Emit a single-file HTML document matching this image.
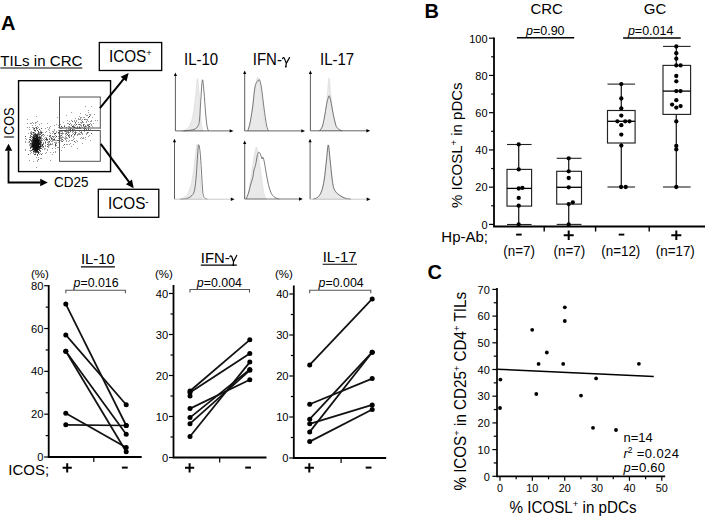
<!DOCTYPE html>
<html><head><meta charset="utf-8"><style>
html,body{margin:0;padding:0;background:#fff;width:709px;height:518px;overflow:hidden}
svg{display:block;font-family:"Liberation Sans", sans-serif;}
</style></head><body>
<svg width="709" height="518" viewBox="0 0 709 518" font-family='"Liberation Sans", sans-serif' fill="#000">
<defs><filter id="bl" x="-5%" y="-5%" width="110%" height="110%"><feGaussianBlur stdDeviation="0.4"/></filter></defs>
<text x="1.0" y="30.2" font-size="20" text-anchor="start" font-weight="bold" >A</text>
<text transform="translate(0.3,66.2) scale(1,1.03)" x="0" y="0" font-size="15.1" text-anchor="start" font-weight="normal" >TILs in CRC</text>
<line x1="0.30" y1="68.00" x2="82.40" y2="68.00" stroke="#000" stroke-width="1.0" />
<path d="M33 134h1v1h-1zM35 153h1v1h-1zM33 133h1v1h-1zM42 140h1v1h-1zM33 153h1v1h-1zM41 144h1v1h-1zM41 143h1v1h-1zM30 146h1v1h-1zM30 145h1v1h-1zM34 152h1v1h-1zM32 138h1v1h-1zM37 133h1v1h-1zM39 145h1v1h-1zM33 150h1v1h-1zM40 150h1v1h-1zM40 139h1v1h-1zM33 152h1v1h-1zM30 144h1v1h-1zM32 150h1v1h-1zM32 148h1v1h-1zM29 127h1v1h-1zM33 128h1v1h-1zM25 150h1v1h-1zM45 128h1v1h-1zM37 128h1v1h-1zM34 133h1v1h-1zM42 132h1v1h-1zM35 123h1v1h-1zM28 133h1v1h-1zM41 136h1v1h-1zM30 132h1v1h-1zM31 142h1v1h-1zM40 130h1v1h-1zM39 135h1v1h-1zM40 158h1v1h-1zM29 129h1v1h-1zM36 122h1v1h-1zM44 140h1v1h-1zM29 145h1v1h-1zM39 132h1v1h-1zM40 131h1v1h-1zM40 136h1v1h-1zM35 122h1v1h-1zM29 137h1v1h-1zM30 153h1v1h-1zM28 142h1v1h-1zM30 123h1v1h-1zM27 127h1v1h-1zM34 129h1v1h-1zM38 136h1v1h-1zM44 148h1v1h-1zM32 127h1v1h-1zM41 145h1v1h-1zM34 132h1v1h-1zM47 127h1v1h-1zM35 125h1v1h-1zM37 126h1v1h-1zM29 142h1v1h-1zM44 138h1v1h-1zM30 150h1v1h-1zM25 142h1v1h-1zM40 133h1v1h-1zM31 152h1v1h-1zM32 136h1v1h-1zM30 151h1v1h-1zM41 138h1v1h-1zM38 157h1v1h-1zM33 123h1v1h-1zM36 157h1v1h-1zM25 138h1v1h-1zM32 122h1v1h-1zM41 137h1v1h-1zM29 160h1v1h-1zM32 125h1v1h-1zM47 140h1v1h-1zM30 133h1v1h-1zM32 134h1v1h-1zM32 132h1v1h-1zM43 142h1v1h-1zM30 136h1v1h-1zM41 123h1v1h-1zM42 134h1v1h-1zM40 153h1v1h-1zM43 139h1v1h-1zM39 154h1v1h-1zM41 158h1v1h-1zM42 138h1v1h-1zM37 121h1v1h-1zM35 131h1v1h-1zM39 124h1v1h-1zM36 116h1v1h-1zM27 119h1v1h-1zM41 141h1v1h-1zM45 153h1v1h-1zM37 161h1v1h-1zM42 135h1v1h-1zM29 150h1v1h-1zM43 147h1v1h-1zM39 133h1v1h-1zM36 167h1v1h-1zM42 147h1v1h-1zM25 141h1v1h-1zM33 127h1v1h-1zM31 138h1v1h-1zM26 139h1v1h-1zM29 144h1v1h-1zM39 152h1v1h-1zM42 149h1v1h-1zM25 149h1v1h-1zM33 129h1v1h-1zM48 147h1v1h-1zM37 160h1v1h-1zM45 141h1v1h-1zM38 127h1v1h-1zM31 131h1v1h-1zM36 129h1v1h-1zM41 139h1v1h-1zM38 135h1v1h-1zM27 123h1v1h-1zM31 123h1v1h-1zM35 127h1v1h-1zM31 132h1v1h-1zM45 132h1v1h-1zM45 137h1v1h-1zM41 131h1v1h-1zM33 161h1v1h-1zM91 121h1v1h-1zM71 112h1v1h-1zM78 122h1v1h-1zM58 127h1v1h-1zM60 135h1v1h-1zM77 126h1v1h-1zM68 129h1v1h-1zM73 125h1v1h-1zM67 131h1v1h-1zM65 138h1v1h-1zM69 121h1v1h-1zM79 126h1v1h-1zM69 134h1v1h-1zM52 133h1v1h-1zM68 126h1v1h-1zM89 135h1v1h-1zM83 137h1v1h-1zM69 136h1v1h-1zM61 138h1v1h-1zM62 131h1v1h-1zM55 148h1v1h-1zM56 143h1v1h-1zM75 125h1v1h-1zM91 124h1v1h-1zM52 148h1v1h-1zM51 139h1v1h-1zM72 140h1v1h-1zM55 142h1v1h-1zM64 147h1v1h-1zM80 124h1v1h-1zM63 145h1v1h-1zM83 122h1v1h-1zM78 134h1v1h-1zM71 128h1v1h-1zM87 115h1v1h-1zM77 130h1v1h-1zM69 132h1v1h-1zM51 144h1v1h-1zM90 130h1v1h-1zM93 123h1v1h-1zM82 127h1v1h-1zM69 127h1v1h-1zM63 137h1v1h-1zM78 133h1v1h-1zM50 152h1v1h-1zM56 131h1v1h-1zM73 133h1v1h-1zM74 130h1v1h-1zM42 153h1v1h-1zM54 125h1v1h-1zM68 130h1v1h-1zM64 131h1v1h-1zM83 128h1v1h-1zM81 125h1v1h-1zM94 114h1v1h-1zM88 112h1v1h-1zM62 134h1v1h-1zM68 141h1v1h-1zM71 140h1v1h-1zM69 129h1v1h-1zM48 145h1v1h-1zM47 135h1v1h-1zM80 117h1v1h-1zM88 136h1v1h-1zM61 140h1v1h-1zM53 136h1v1h-1zM80 132h1v1h-1zM48 144h1v1h-1zM54 140h1v1h-1zM61 137h1v1h-1zM54 134h1v1h-1zM77 134h1v1h-1zM64 125h1v1h-1zM77 141h1v1h-1zM82 134h1v1h-1zM78 128h1v1h-1zM86 115h1v1h-1zM47 142h1v1h-1zM88 127h1v1h-1zM53 140h1v1h-1zM81 120h1v1h-1zM49 138h1v1h-1zM70 123h1v1h-1zM44 135h1v1h-1zM56 142h1v1h-1zM55 135h1v1h-1zM67 144h1v1h-1zM84 117h1v1h-1zM49 145h1v1h-1zM46 131h1v1h-1zM54 130h1v1h-1zM66 127h1v1h-1zM74 129h1v1h-1zM55 140h1v1h-1zM54 136h1v1h-1zM87 119h1v1h-1zM53 137h1v1h-1zM65 139h1v1h-1zM67 138h1v1h-1zM79 116h1v1h-1zM43 144h1v1h-1zM60 128h1v1h-1zM97 120h1v1h-1zM46 152h1v1h-1zM62 132h1v1h-1zM60 138h1v1h-1zM48 142h1v1h-1zM88 126h1v1h-1zM54 138h1v1h-1zM51 141h1v1h-1zM70 130h1v1h-1zM76 132h1v1h-1zM86 119h1v1h-1zM58 142h1v1h-1zM88 121h1v1h-1zM75 127h1v1h-1zM49 144h1v1h-1zM91 120h1v1h-1zM59 143h1v1h-1zM47 123h1v1h-1zM82 138h1v1h-1zM92 117h1v1h-1zM73 137h1v1h-1zM84 127h1v1h-1zM72 132h1v1h-1zM80 113h1v1h-1zM67 132h1v1h-1zM91 106h1v1h-1zM74 124h1v1h-1zM80 127h1v1h-1zM83 138h1v1h-1zM58 130h1v1h-1zM75 142h1v1h-1zM68 131h1v1h-1zM87 120h1v1h-1zM60 124h1v1h-1zM89 114h1v1h-1zM73 136h1v1h-1zM86 121h1v1h-1zM68 136h1v1h-1zM83 126h1v1h-1zM73 127h1v1h-1zM64 138h1v1h-1zM85 119h1v1h-1zM75 131h1v1h-1zM49 130h1v1h-1zM49 128h1v1h-1zM47 149h1v1h-1zM84 131h1v1h-1zM52 138h1v1h-1zM56 145h1v1h-1zM72 131h1v1h-1zM50 133h1v1h-1zM49 127h1v1h-1zM90 114h1v1h-1zM69 144h1v1h-1zM67 123h1v1h-1zM74 135h1v1h-1zM73 129h1v1h-1zM70 127h1v1h-1zM66 144h1v1h-1zM79 119h1v1h-1zM58 147h1v1h-1zM77 135h1v1h-1zM71 125h1v1h-1zM55 151h1v1h-1zM86 134h1v1h-1zM76 140h1v1h-1zM80 119h1v1h-1zM82 122h1v1h-1zM74 120h1v1h-1zM45 148h1v1h-1zM92 126h1v1h-1zM58 136h1v1h-1zM56 132h1v1h-1zM79 133h1v1h-1zM49 142h1v1h-1zM84 126h1v1h-1zM74 121h1v1h-1zM62 133h1v1h-1zM75 123h1v1h-1zM52 139h1v1h-1zM55 137h1v1h-1zM52 144h1v1h-1zM55 152h1v1h-1zM88 124h1v1h-1zM62 137h1v1h-1zM50 160h1v1h-1zM81 122h1v1h-1zM70 128h1v1h-1zM55 143h1v1h-1zM61 141h1v1h-1zM51 137h1v1h-1zM59 134h1v1h-1zM50 136h1v1h-1zM58 133h1v1h-1zM42 146h1v1h-1zM66 137h1v1h-1zM61 150h1v1h-1zM76 121h1v1h-1zM56 140h1v1h-1zM87 133h1v1h-1zM50 143h1v1h-1zM80 138h1v1h-1zM63 133h1v1h-1zM87 124h1v1h-1zM86 133h1v1h-1zM65 136h1v1h-1zM54 142h1v1h-1zM77 148h1v1h-1zM62 147h1v1h-1zM86 126h1v1h-1zM79 131h1v1h-1zM85 114h1v1h-1zM73 139h1v1h-1zM90 129h1v1h-1zM69 140h1v1h-1zM73 131h1v1h-1zM75 128h1v1h-1zM86 130h1v1h-1zM57 117h1v1h-1zM90 140h1v1h-1zM43 136h1v1h-1zM46 137h1v1h-1zM71 120h1v1h-1zM53 152h1v1h-1zM66 132h1v1h-1zM48 146h1v1h-1zM58 125h1v1h-1zM66 131h1v1h-1zM88 128h1v1h-1zM65 133h1v1h-1zM49 135h1v1h-1zM90 123h1v1h-1zM44 149h1v1h-1zM69 126h1v1h-1zM56 124h1v1h-1zM68 133h1v1h-1zM62 136h1v1h-1zM82 133h1v1h-1zM78 124h1v1h-1zM52 154h1v1h-1zM63 122h1v1h-1zM48 143h1v1h-1zM48 141h1v1h-1zM48 129h1v1h-1zM84 124h1v1h-1zM85 125h1v1h-1zM81 126h1v1h-1zM63 140h1v1h-1zM47 150h1v1h-1zM80 134h1v1h-1zM57 147h1v1h-1zM73 144h1v1h-1zM65 137h1v1h-1zM59 139h1v1h-1zM52 131h1v1h-1zM88 110h1v1h-1zM74 138h1v1h-1zM83 117h1v1h-1zM75 118h1v1h-1zM60 136h1v1h-1zM69 135h1v1h-1zM90 121h1v1h-1zM68 123h1v1h-1zM81 133h1v1h-1zM60 137h1v1h-1zM61 139h1v1h-1zM70 143h1v1h-1zM87 130h1v1h-1zM45 145h1v1h-1zM60 133h1v1h-1zM81 137h1v1h-1zM88 132h1v1h-1zM85 139h1v1h-1zM67 120h1v1h-1zM81 123h1v1h-1zM55 146h1v1h-1zM45 146h1v1h-1zM61 128h1v1h-1zM74 132h1v1h-1zM52 143h1v1h-1zM60 140h1v1h-1zM91 125h1v1h-1zM100 128h1v1h-1zM72 134h1v1h-1zM66 129h1v1h-1zM90 115h1v1h-1zM66 141h1v1h-1zM46 140h1v1h-1zM59 136h1v1h-1zM59 144h1v1h-1zM74 126h1v1h-1zM54 129h1v1h-1zM49 132h1v1h-1zM66 135h1v1h-1zM50 137h1v1h-1zM80 118h1v1h-1zM95 120h1v1h-1zM76 128h1v1h-1zM81 131h1v1h-1zM86 122h1v1h-1zM71 124h1v1h-1zM53 131h1v1h-1zM58 138h1v1h-1zM60 131h1v1h-1zM83 130h1v1h-1zM85 106h1v1h-1zM52 140h1v1h-1zM82 119h1v1h-1zM50 126h1v1h-1zM78 119h1v1h-1zM53 132h1v1h-1zM66 115h1v1h-1zM66 138h1v1h-1zM84 128h1v1h-1zM71 136h1v1h-1zM66 140h1v1h-1zM80 125h1v1h-1zM85 137h1v1h-1zM79 128h1v1h-1zM82 143h1v1h-1zM61 131h1v1h-1zM50 140h1v1h-1zM76 120h1v1h-1zM52 141h1v1h-1zM78 118h1v1h-1zM75 134h1v1h-1zM45 143h1v1h-1zM71 146h1v1h-1zM79 134h1v1h-1zM80 122h1v1h-1zM81 117h1v1h-1zM68 128h1v1h-1zM65 134h1v1h-1z" fill="rgb(156,156,156)" filter="url(#bl)"/>
<path d="M35 152h1v1h-1zM35 137h1v1h-1zM38 134h1v1h-1zM31 140h1v1h-1zM37 155h1v1h-1zM39 149h1v1h-1zM36 152h1v1h-1zM31 145h1v1h-1zM31 144h1v1h-1zM38 133h1v1h-1zM37 152h1v1h-1zM31 150h1v1h-1zM32 137h1v1h-1zM30 140h1v1h-1zM35 154h1v1h-1zM31 143h1v1h-1zM34 151h1v1h-1zM40 151h1v1h-1zM34 154h1v1h-1zM32 147h1v1h-1zM38 138h1v1h-1zM40 147h1v1h-1zM31 136h1v1h-1zM41 148h1v1h-1zM40 132h1v1h-1zM39 134h1v1h-1zM35 133h1v1h-1zM28 154h1v1h-1zM30 135h1v1h-1zM41 154h1v1h-1zM31 134h1v1h-1zM46 139h1v1h-1zM41 128h1v1h-1zM41 133h1v1h-1zM31 147h1v1h-1zM41 146h1v1h-1zM33 136h1v1h-1zM36 128h1v1h-1zM25 136h1v1h-1zM31 141h1v1h-1zM40 134h1v1h-1zM41 135h1v1h-1zM30 139h1v1h-1zM38 132h1v1h-1zM43 134h1v1h-1zM38 159h1v1h-1zM39 136h1v1h-1zM35 130h1v1h-1zM40 140h1v1h-1zM43 146h1v1h-1zM41 140h1v1h-1zM34 135h1v1h-1zM43 143h1v1h-1zM36 127h1v1h-1zM41 142h1v1h-1zM30 148h1v1h-1zM30 147h1v1h-1zM30 137h1v1h-1zM38 151h1v1h-1zM29 139h1v1h-1zM45 142h1v1h-1zM29 141h1v1h-1zM37 154h1v1h-1zM49 136h1v1h-1zM31 133h1v1h-1zM45 139h1v1h-1zM73 130h1v1h-1zM58 132h1v1h-1zM58 140h1v1h-1zM91 133h1v1h-1zM91 130h1v1h-1zM88 129h1v1h-1zM72 121h1v1h-1zM77 127h1v1h-1zM64 144h1v1h-1zM80 128h1v1h-1zM60 130h1v1h-1zM47 144h1v1h-1zM84 130h1v1h-1zM50 144h1v1h-1zM83 124h1v1h-1zM49 141h1v1h-1zM72 129h1v1h-1zM65 131h1v1h-1zM71 135h1v1h-1zM75 133h1v1h-1zM70 129h1v1h-1zM87 125h1v1h-1zM83 125h1v1h-1zM62 141h1v1h-1zM70 131h1v1h-1zM88 125h1v1h-1zM76 130h1v1h-1zM75 122h1v1h-1zM84 129h1v1h-1zM79 124h1v1h-1zM88 117h1v1h-1zM86 129h1v1h-1zM49 139h1v1h-1zM55 145h1v1h-1zM66 130h1v1h-1zM66 133h1v1h-1zM81 132h1v1h-1zM85 128h1v1h-1zM75 132h1v1h-1zM57 140h1v1h-1zM62 127h1v1h-1zM54 133h1v1h-1zM61 135h1v1h-1zM89 124h1v1h-1zM73 126h1v1h-1zM74 141h1v1h-1zM82 121h1v1h-1zM47 146h1v1h-1zM64 126h1v1h-1zM61 133h1v1h-1zM68 132h1v1h-1zM74 134h1v1h-1zM67 134h1v1h-1zM78 130h1v1h-1zM53 139h1v1h-1zM85 126h1v1h-1zM69 137h1v1h-1zM84 119h1v1h-1zM69 124h1v1h-1zM77 128h1v1h-1zM87 132h1v1h-1zM76 124h1v1h-1zM50 135h1v1h-1zM52 136h1v1h-1zM75 130h1v1h-1zM62 139h1v1h-1z" fill="rgb(90,90,90)" filter="url(#bl)"/>
<path d="M34 136h1v1h-1zM32 139h1v1h-1zM39 139h1v1h-1zM39 142h1v1h-1zM39 141h1v1h-1zM33 132h1v1h-1zM38 152h1v1h-1zM40 143h1v1h-1zM40 145h1v1h-1zM34 134h1v1h-1zM32 140h1v1h-1zM33 135h1v1h-1zM31 146h1v1h-1zM38 148h1v1h-1zM39 138h1v1h-1zM40 148h1v1h-1zM39 150h1v1h-1zM39 148h1v1h-1zM32 141h1v1h-1zM33 139h1v1h-1zM34 130h1v1h-1zM30 143h1v1h-1zM37 130h1v1h-1zM37 134h1v1h-1zM41 132h1v1h-1zM42 144h1v1h-1zM36 134h1v1h-1zM40 137h1v1h-1zM38 131h1v1h-1zM39 129h1v1h-1zM35 134h1v1h-1zM34 128h1v1h-1zM74 127h1v1h-1zM59 131h1v1h-1zM68 135h1v1h-1zM89 116h1v1h-1zM47 139h1v1h-1zM54 139h1v1h-1zM79 127h1v1h-1zM46 138h1v1h-1zM55 133h1v1h-1zM61 126h1v1h-1zM72 126h1v1h-1zM89 126h1v1h-1zM56 136h1v1h-1zM51 138h1v1h-1zM55 144h1v1h-1z" fill="rgb(57,57,57)" filter="url(#bl)"/>
<path d="M38 153h1v1h-1zM34 137h1v1h-1zM32 149h1v1h-1zM38 137h1v1h-1zM40 144h1v1h-1zM34 150h1v1h-1zM37 151h1v1h-1zM33 151h1v1h-1zM39 140h1v1h-1zM37 137h1v1h-1zM36 151h1v1h-1zM38 139h1v1h-1zM35 151h1v1h-1zM35 136h1v1h-1zM36 135h1v1h-1zM32 142h1v1h-1zM40 138h1v1h-1zM40 141h1v1h-1zM36 136h1v1h-1zM39 137h1v1h-1zM35 135h1v1h-1zM37 135h1v1h-1zM40 142h1v1h-1zM42 145h1v1h-1z" fill="rgb(40,40,40)" filter="url(#bl)"/>
<path d="M32 145h1v1h-1zM33 143h1v1h-1zM33 142h1v1h-1zM33 148h1v1h-1zM32 143h1v1h-1zM36 137h1v1h-1zM34 139h1v1h-1zM32 146h1v1h-1zM33 149h1v1h-1zM37 150h1v1h-1zM37 136h1v1h-1zM39 147h1v1h-1zM39 144h1v1h-1zM36 150h1v1h-1zM34 148h1v1h-1zM33 138h1v1h-1zM32 144h1v1h-1zM40 146h1v1h-1zM34 149h1v1h-1zM35 150h1v1h-1zM34 138h1v1h-1zM39 146h1v1h-1z" fill="rgb(24,24,24)" filter="url(#bl)"/>
<path d="M36 147h1v1h-1zM38 145h1v1h-1zM35 144h1v1h-1zM35 142h1v1h-1zM34 145h1v1h-1zM37 139h1v1h-1zM35 146h1v1h-1zM37 144h1v1h-1zM35 140h1v1h-1zM37 149h1v1h-1zM35 147h1v1h-1zM36 138h1v1h-1zM37 145h1v1h-1zM35 141h1v1h-1zM37 142h1v1h-1zM33 140h1v1h-1zM36 144h1v1h-1zM34 146h1v1h-1zM36 141h1v1h-1zM37 147h1v1h-1zM35 148h1v1h-1zM34 147h1v1h-1zM35 143h1v1h-1zM34 142h1v1h-1zM36 149h1v1h-1zM38 147h1v1h-1zM34 140h1v1h-1zM36 148h1v1h-1zM37 141h1v1h-1zM34 144h1v1h-1zM38 146h1v1h-1zM37 143h1v1h-1zM33 147h1v1h-1zM37 146h1v1h-1zM36 146h1v1h-1zM36 139h1v1h-1zM38 144h1v1h-1zM33 145h1v1h-1zM35 145h1v1h-1zM36 142h1v1h-1zM38 143h1v1h-1zM37 140h1v1h-1zM36 145h1v1h-1zM36 143h1v1h-1zM33 144h1v1h-1zM38 140h1v1h-1zM34 143h1v1h-1zM37 138h1v1h-1zM35 149h1v1h-1zM37 148h1v1h-1zM36 140h1v1h-1zM35 139h1v1h-1zM33 146h1v1h-1zM39 143h1v1h-1zM33 141h1v1h-1zM33 137h1v1h-1zM34 141h1v1h-1zM38 149h1v1h-1zM38 142h1v1h-1zM35 138h1v1h-1zM38 141h1v1h-1z" fill="rgb(7,7,7)" filter="url(#bl)"/>
<rect x="18.55" y="80.7" width="92" height="90.9" fill="none" stroke="#000" stroke-width="1.4"/>
<rect x="59.5" y="97" width="40.8" height="31" fill="none" stroke="#505050" stroke-width="1"/>
<rect x="59.5" y="130.5" width="40.8" height="30.8" fill="none" stroke="#505050" stroke-width="1"/>
<text x="0" y="0" font-size="14" text-anchor="middle" font-weight="normal" transform="translate(13.9,123) rotate(-90) scale(1,1.03)" textLength="31.3" lengthAdjust="spacingAndGlyphs">ICOS</text>
<path d="M8.5 150.6 V182.5 H40.4" fill="none" stroke="#000" stroke-width="1.8"/>
<path d="M4.8 150.8 L12.2 150.8 L8.5 143.7 Z" fill="#000"/>
<path d="M40.2 178.8 L40.2 186.2 L47.8 182.5 Z" fill="#000"/>
<text transform="translate(54,187) scale(1,1.03)" x="0" y="0" font-size="13.5" text-anchor="start" font-weight="normal" >CD25</text>
<rect x="99.3" y="42.5" width="62.4" height="28" fill="none" stroke="#000" stroke-width="1.3"/>
<text transform="translate(108.9,61.6) scale(1,1.03)" x="0" y="0" font-size="15.3">ICOS<tspan font-size="9.5" dy="-5">+</tspan></text>
<rect x="98.3" y="189.3" width="60.5" height="28" fill="none" stroke="#000" stroke-width="1.3"/>
<text transform="translate(108.0,208.9) scale(1,1.03)" x="0" y="0" font-size="15.3">ICOS<tspan font-size="10" dy="-4.2">-</tspan></text>
<line x1="99.9" y1="108.2" x2="124.18" y2="78.33" stroke="#000" stroke-width="2.0"/>
<path d="M128.60 72.90 L126.50 81.50 L120.60 76.71 Z" fill="#000"/>
<line x1="100.7" y1="143.9" x2="129.52" y2="182.68" stroke="#000" stroke-width="2.0"/>
<path d="M133.70 188.30 L125.88 184.15 L131.98 179.61 Z" fill="#000"/>
<text transform="translate(184.0,65.1) scale(1,1.07)" x="0" y="0" font-size="15" text-anchor="start" font-weight="normal">IL-10</text>
<text transform="translate(252.8,64.6) scale(1,1.07)" x="0" y="0" font-size="15" text-anchor="start" font-weight="normal">IFN-</text>
<path d="M282.6 58.6 Q283.2 56.9 284.3 58.1 L286.3 63.4 L289.5 57.6 M286.3 63.4 L285.8 66.8" fill="none" stroke="#000" stroke-width="1.2" stroke-linecap="round" stroke-linejoin="round"/>
<circle cx="285.85" cy="66.60" r="0.8" fill="#000"/>
<text transform="translate(320.0,65.1) scale(1,1.07)" x="0" y="0" font-size="15" text-anchor="start" font-weight="normal">IL-17</text>
<path d="M181.50 130.90 C182.25 130.67 184.58 130.48 186.00 129.50 C187.42 128.52 188.83 127.42 190.00 125.00 C191.17 122.58 192.08 119.67 193.00 115.00 C193.92 110.33 194.77 103.08 195.50 97.00 C196.23 90.92 196.82 79.33 197.40 78.50 C197.98 77.67 198.48 85.92 199.00 92.00 C199.52 98.08 200.00 109.00 200.50 115.00 C201.00 121.00 201.50 125.35 202.00 128.00 C202.50 130.65 203.25 130.42 203.50 130.90 Z" fill="#e9e9e9" stroke="#d6d6d6" stroke-width="0.6"/>
<path d="M183.50 130.90 C184.58 130.80 188.08 130.62 190.00 130.30 C191.92 129.98 193.67 129.72 195.00 129.00 C196.33 128.28 197.25 127.50 198.00 126.00 C198.75 124.50 199.03 124.33 199.50 120.00 C199.97 115.67 200.32 106.68 200.80 100.00 C201.28 93.32 201.87 81.23 202.40 79.90 C202.93 78.57 203.48 86.65 204.00 92.00 C204.52 97.35 205.00 106.33 205.50 112.00 C206.00 117.67 206.50 122.85 207.00 126.00 C207.50 129.15 208.25 130.08 208.50 130.90" fill="none" stroke="#505050" stroke-width="0.75"/>
<path d="M247.80 130.90 C248.17 129.58 249.22 126.82 250.00 123.00 C250.78 119.18 251.67 113.83 252.50 108.00 C253.33 102.17 254.20 93.03 255.00 88.00 C255.80 82.97 256.63 79.13 257.30 77.80 C257.97 76.47 258.38 77.63 259.00 80.00 C259.62 82.37 260.25 86.67 261.00 92.00 C261.75 97.33 262.75 106.17 263.50 112.00 C264.25 117.83 264.95 123.85 265.50 127.00 C266.05 130.15 266.58 130.25 266.80 130.90 Z" fill="#e9e9e9" stroke="#d6d6d6" stroke-width="0.6"/>
<path d="M247.80 130.90 C248.17 129.58 249.22 126.82 250.00 123.00 C250.78 119.18 251.70 113.83 252.50 108.00 C253.30 102.17 254.07 92.35 254.80 88.00 C255.53 83.65 256.33 83.08 256.90 81.90 C257.47 80.72 257.75 81.23 258.20 80.90 C258.65 80.57 259.05 78.72 259.60 79.90 C260.15 81.08 260.77 83.32 261.50 88.00 C262.23 92.68 263.17 101.83 264.00 108.00 C264.83 114.17 265.77 121.18 266.50 125.00 C267.23 128.82 268.08 129.92 268.40 130.90" fill="none" stroke="#505050" stroke-width="0.75"/>
<path d="M318.50 130.80 C319.08 130.17 320.92 129.63 322.00 127.00 C323.08 124.37 324.12 120.33 325.00 115.00 C325.88 109.67 326.62 101.20 327.30 95.00 C327.98 88.80 328.52 77.80 329.10 77.80 C329.68 77.80 330.15 89.13 330.80 95.00 C331.45 100.87 332.13 107.83 333.00 113.00 C333.87 118.17 335.03 123.17 336.00 126.00 C336.97 128.83 337.77 129.20 338.80 130.00 C339.83 130.80 341.63 130.67 342.20 130.80 Z" fill="#e9e9e9" stroke="#d6d6d6" stroke-width="0.6"/>
<path d="M319.60 130.80 C320.08 130.00 321.60 128.80 322.50 126.00 C323.40 123.20 324.32 117.63 325.00 114.00 C325.68 110.37 326.07 106.87 326.60 104.20 C327.13 101.53 327.75 99.40 328.20 98.00 C328.65 96.60 328.87 95.30 329.30 95.80 C329.73 96.30 330.18 98.13 330.80 101.00 C331.42 103.87 332.22 109.17 333.00 113.00 C333.78 116.83 334.87 121.63 335.50 124.00 C336.13 126.37 336.22 126.28 336.80 127.20 C337.38 128.12 338.10 128.90 339.00 129.50 C339.90 130.10 341.67 130.58 342.20 130.80" fill="none" stroke="#505050" stroke-width="0.75"/>
<path d="M175.4 75.6 V130.9" fill="none" stroke="#4a4a4a" stroke-width="0.9"/>
<path d="M175.4 130.9 H230.5" fill="none" stroke="#555" stroke-width="0.9"/>
<path d="M173.8 76.1 L177.0 76.1 L175.4 72.6 Z" fill="#000"/>
<path d="M229.7 129.20000000000002 L229.7 132.6 L233.5 130.9 Z" fill="#000"/>
<path d="M244.7 73.4 V130.9" fill="none" stroke="#4a4a4a" stroke-width="0.9"/>
<path d="M244.7 130.9 H302.1" fill="none" stroke="#555" stroke-width="0.9"/>
<path d="M243.1 73.9 L246.29999999999998 73.9 L244.7 70.4 Z" fill="#000"/>
<path d="M301.3 129.20000000000002 L301.3 132.6 L305.1 130.9 Z" fill="#000"/>
<path d="M310.4 73.4 V130.8" fill="none" stroke="#4a4a4a" stroke-width="0.9"/>
<path d="M310.4 130.8 H367.2" fill="none" stroke="#555" stroke-width="0.9"/>
<path d="M308.79999999999995 73.9 L312.0 73.9 L310.4 70.4 Z" fill="#000"/>
<path d="M366.4 129.10000000000002 L366.4 132.5 L370.2 130.8 Z" fill="#000"/>
<path d="M178.80 199.20 C179.67 198.92 182.47 198.53 184.00 197.50 C185.53 196.47 186.75 195.42 188.00 193.00 C189.25 190.58 190.50 187.33 191.50 183.00 C192.50 178.67 193.28 172.17 194.00 167.00 C194.72 161.83 195.30 155.87 195.80 152.00 C196.30 148.13 196.55 143.80 197.00 143.80 C197.45 143.80 197.95 146.30 198.50 152.00 C199.05 157.70 199.80 171.00 200.30 178.00 C200.80 185.00 201.15 190.47 201.50 194.00 C201.85 197.53 202.25 198.33 202.40 199.20 Z" fill="#e9e9e9" stroke="#d6d6d6" stroke-width="0.6"/>
<path d="M180.50 199.20 C181.58 199.08 185.08 199.12 187.00 198.50 C188.92 197.88 190.73 196.95 192.00 195.50 C193.27 194.05 193.88 193.22 194.60 189.80 C195.32 186.38 195.80 180.80 196.30 175.00 C196.80 169.20 197.22 160.03 197.60 155.00 C197.98 149.97 198.18 145.30 198.60 144.80 C199.02 144.30 199.63 147.80 200.10 152.00 C200.57 156.20 201.02 164.17 201.40 170.00 C201.78 175.83 202.08 182.80 202.40 187.00 C202.72 191.20 202.87 193.28 203.30 195.20 C203.73 197.12 204.30 197.83 205.00 198.50 C205.70 199.17 207.08 199.08 207.50 199.20" fill="none" stroke="#505050" stroke-width="0.75"/>
<path d="M246.10 199.00 C246.50 197.83 247.68 195.50 248.50 192.00 C249.32 188.50 250.17 183.33 251.00 178.00 C251.83 172.67 252.75 164.67 253.50 160.00 C254.25 155.33 255.00 152.13 255.50 150.00 C256.00 147.87 256.08 146.70 256.50 147.20 C256.92 147.70 257.33 149.20 258.00 153.00 C258.67 156.80 259.67 164.17 260.50 170.00 C261.33 175.83 262.28 183.58 263.00 188.00 C263.72 192.42 264.23 194.67 264.80 196.50 C265.37 198.33 266.13 198.58 266.40 199.00 Z" fill="#e9e9e9" stroke="#d6d6d6" stroke-width="0.6"/>
<path d="M246.10 199.00 C246.50 198.00 247.72 195.50 248.50 193.00 C249.28 190.50 250.08 186.57 250.80 184.00 C251.52 181.43 252.27 179.93 252.80 177.60 C253.33 175.27 253.55 172.03 254.00 170.00 C254.45 167.97 255.00 167.57 255.50 165.40 C256.00 163.23 256.55 159.10 257.00 157.00 C257.45 154.90 257.77 153.53 258.20 152.80 C258.63 152.07 259.13 152.07 259.60 152.60 C260.07 153.13 260.60 154.93 261.00 156.00 C261.40 157.07 261.67 158.78 262.00 159.00 C262.33 159.22 262.58 156.63 263.00 157.30 C263.42 157.97 263.92 160.05 264.50 163.00 C265.08 165.95 265.85 171.43 266.50 175.00 C267.15 178.57 267.77 181.73 268.40 184.40 C269.03 187.07 269.63 189.20 270.30 191.00 C270.97 192.80 271.53 194.07 272.40 195.20 C273.27 196.33 274.37 197.17 275.50 197.80 C276.63 198.43 278.58 198.80 279.20 199.00" fill="none" stroke="#505050" stroke-width="0.75"/>
<path d="M312.40 199.20 C313.17 198.92 315.57 198.70 317.00 197.50 C318.43 196.30 319.83 194.92 321.00 192.00 C322.17 189.08 323.12 185.33 324.00 180.00 C324.88 174.67 325.60 165.92 326.30 160.00 C327.00 154.08 327.57 144.50 328.20 144.50 C328.83 144.50 329.47 154.42 330.10 160.00 C330.73 165.58 331.45 173.48 332.00 178.00 C332.55 182.52 332.82 184.93 333.40 187.10 C333.98 189.27 334.83 190.00 335.50 191.00 C336.17 192.00 336.32 192.18 337.40 193.10 C338.48 194.02 340.57 195.63 342.00 196.50 C343.43 197.37 344.50 197.85 346.00 198.30 C347.50 198.75 350.17 199.05 351.00 199.20 Z" fill="#e9e9e9" stroke="#d6d6d6" stroke-width="0.6"/>
<path d="M313.00 199.20 C313.75 198.92 316.12 198.70 317.50 197.50 C318.88 196.30 320.18 194.92 321.30 192.00 C322.42 189.08 323.33 185.33 324.20 180.00 C325.07 174.67 325.82 165.83 326.50 160.00 C327.18 154.17 327.70 145.00 328.30 145.00 C328.90 145.00 329.48 154.50 330.10 160.00 C330.72 165.50 331.42 173.42 332.00 178.00 C332.58 182.58 333.02 185.25 333.60 187.50 C334.18 189.75 334.83 190.45 335.50 191.50 C336.17 192.55 336.52 192.92 337.60 193.80 C338.68 194.68 340.60 196.02 342.00 196.80 C343.40 197.58 344.50 198.10 346.00 198.50 C347.50 198.90 350.17 199.08 351.00 199.20" fill="none" stroke="#505050" stroke-width="0.75"/>
<path d="M174.5 141.7 V199.2" fill="none" stroke="#4a4a4a" stroke-width="0.9"/>
<path d="M174.5 199.2 H231.6" fill="none" stroke="#c4c4c4" stroke-width="0.9"/>
<path d="M172.9 142.2 L176.1 142.2 L174.5 138.7 Z" fill="#000"/>
<path d="M230.79999999999998 197.5 L230.79999999999998 200.89999999999998 L234.6 199.2 Z" fill="#000"/>
<path d="M244.7 143.4 V199.0" fill="none" stroke="#4a4a4a" stroke-width="0.9"/>
<path d="M244.7 199.0 H299.8" fill="none" stroke="#6a6a6a" stroke-width="0.9"/>
<path d="M243.1 143.9 L246.29999999999998 143.9 L244.7 140.4 Z" fill="#000"/>
<path d="M299.0 197.3 L299.0 200.7 L302.8 199.0 Z" fill="#000"/>
<path d="M310.1 141.7 V199.2" fill="none" stroke="#4a4a4a" stroke-width="0.9"/>
<path d="M310.1 199.2 H367.5" fill="none" stroke="#c4c4c4" stroke-width="0.9"/>
<path d="M308.5 142.2 L311.70000000000005 142.2 L310.1 138.7 Z" fill="#000"/>
<path d="M366.7 197.5 L366.7 200.89999999999998 L370.5 199.2 Z" fill="#000"/>
<text transform="translate(80.9,264.1) scale(1,1.03)" x="0" y="0" font-size="14.8">IL-10</text>
<line x1="80.90" y1="266.90" x2="114.90" y2="266.90" stroke="#000" stroke-width="1.1" />
<text transform="translate(30.9,278) scale(1,1.03)" x="0" y="0" font-size="11.5" text-anchor="start" font-weight="normal" >(%)</text>
<text transform="translate(73.5,287) scale(1,1.03)" x="0" y="0" font-size="12.4"><tspan font-style="italic">p</tspan>=0.016</text>
<path d="M65.8 293.3 V290.3 H125.4 V293.3" fill="none" stroke="#555" stroke-width="1.1"/>
<path d="M48.7 285 V457 H141.7" fill="none" stroke="#000" stroke-width="1.8"/>
<line x1="44.20" y1="457.00" x2="48.70" y2="457.00" stroke="#000" stroke-width="1.2" />
<text transform="translate(43.5,461.1) scale(1,1.03)" x="0" y="0" font-size="11.2" text-anchor="end" font-weight="normal" >0</text>
<line x1="44.20" y1="414.18" x2="48.70" y2="414.18" stroke="#000" stroke-width="1.2" />
<text transform="translate(43.5,418.28000000000003) scale(1,1.03)" x="0" y="0" font-size="11.2" text-anchor="end" font-weight="normal" >20</text>
<line x1="44.20" y1="371.36" x2="48.70" y2="371.36" stroke="#000" stroke-width="1.2" />
<text transform="translate(43.5,375.46000000000004) scale(1,1.03)" x="0" y="0" font-size="11.2" text-anchor="end" font-weight="normal" >40</text>
<line x1="44.20" y1="328.54" x2="48.70" y2="328.54" stroke="#000" stroke-width="1.2" />
<text transform="translate(43.5,332.64) scale(1,1.03)" x="0" y="0" font-size="11.2" text-anchor="end" font-weight="normal" >60</text>
<line x1="44.20" y1="285.72" x2="48.70" y2="285.72" stroke="#000" stroke-width="1.2" />
<text transform="translate(43.5,289.82000000000005) scale(1,1.03)" x="0" y="0" font-size="11.2" text-anchor="end" font-weight="normal" >80</text>
<line x1="45.70" y1="435.59" x2="48.70" y2="435.59" stroke="#000" stroke-width="1.2" />
<line x1="45.70" y1="392.77" x2="48.70" y2="392.77" stroke="#000" stroke-width="1.2" />
<line x1="45.70" y1="349.95" x2="48.70" y2="349.95" stroke="#000" stroke-width="1.2" />
<line x1="45.70" y1="307.13" x2="48.70" y2="307.13" stroke="#000" stroke-width="1.2" />
<line x1="93.80" y1="457.00" x2="93.80" y2="462.00" stroke="#000" stroke-width="1.2" />
<line x1="65.80" y1="304.10" x2="126.20" y2="425.50" stroke="#111" stroke-width="1.75" />
<line x1="65.80" y1="334.90" x2="126.20" y2="404.70" stroke="#111" stroke-width="1.75" />
<line x1="65.80" y1="351.30" x2="126.20" y2="434.30" stroke="#111" stroke-width="1.75" />
<line x1="65.80" y1="351.30" x2="126.20" y2="451.80" stroke="#111" stroke-width="1.75" />
<line x1="65.80" y1="413.30" x2="126.20" y2="447.40" stroke="#111" stroke-width="1.75" />
<line x1="65.80" y1="424.80" x2="126.20" y2="425.50" stroke="#111" stroke-width="1.75" />
<circle cx="65.80" cy="304.10" r="2.5" fill="#000"/>
<circle cx="126.20" cy="425.50" r="2.5" fill="#000"/>
<circle cx="65.80" cy="334.90" r="2.5" fill="#000"/>
<circle cx="126.20" cy="404.70" r="2.5" fill="#000"/>
<circle cx="65.80" cy="351.30" r="2.5" fill="#000"/>
<circle cx="126.20" cy="434.30" r="2.5" fill="#000"/>
<circle cx="65.80" cy="351.30" r="2.5" fill="#000"/>
<circle cx="126.20" cy="451.80" r="2.5" fill="#000"/>
<circle cx="65.80" cy="413.30" r="2.5" fill="#000"/>
<circle cx="126.20" cy="447.40" r="2.5" fill="#000"/>
<circle cx="65.80" cy="424.80" r="2.5" fill="#000"/>
<circle cx="126.20" cy="425.50" r="2.5" fill="#000"/>
<path d="M62.6 467.8 H71.8 M67.2 463.3 V472.4" stroke="#000" stroke-width="2"/>
<path d="M121.89999999999999 467.6 H127.7" stroke="#000" stroke-width="2"/>
<text transform="translate(200.8,263) scale(1,1.03)" x="0" y="0" font-size="14.8">IFN-</text>
<line x1="200.80" y1="265.10" x2="236.80" y2="265.10" stroke="#000" stroke-width="1.1" />
<text transform="translate(154.9,278) scale(1,1.03)" x="0" y="0" font-size="11.5" text-anchor="start" font-weight="normal" >(%)</text>
<text transform="translate(196.8,286.5) scale(1,1.03)" x="0" y="0" font-size="12.4"><tspan font-style="italic">p</tspan>=0.004</text>
<path d="M190 292.5 V289.5 H249.5 V292.5" fill="none" stroke="#555" stroke-width="1.1"/>
<path d="M173.5 285 V457.5 H266.5" fill="none" stroke="#000" stroke-width="1.8"/>
<line x1="169.00" y1="457.50" x2="173.50" y2="457.50" stroke="#000" stroke-width="1.2" />
<text transform="translate(168.3,461.6) scale(1,1.03)" x="0" y="0" font-size="11.2" text-anchor="end" font-weight="normal" >0</text>
<line x1="169.00" y1="416.50" x2="173.50" y2="416.50" stroke="#000" stroke-width="1.2" />
<text transform="translate(168.3,420.6) scale(1,1.03)" x="0" y="0" font-size="11.2" text-anchor="end" font-weight="normal" >10</text>
<line x1="169.00" y1="375.50" x2="173.50" y2="375.50" stroke="#000" stroke-width="1.2" />
<text transform="translate(168.3,379.6) scale(1,1.03)" x="0" y="0" font-size="11.2" text-anchor="end" font-weight="normal" >20</text>
<line x1="169.00" y1="334.50" x2="173.50" y2="334.50" stroke="#000" stroke-width="1.2" />
<text transform="translate(168.3,338.6) scale(1,1.03)" x="0" y="0" font-size="11.2" text-anchor="end" font-weight="normal" >30</text>
<line x1="169.00" y1="293.50" x2="173.50" y2="293.50" stroke="#000" stroke-width="1.2" />
<text transform="translate(168.3,297.6) scale(1,1.03)" x="0" y="0" font-size="11.2" text-anchor="end" font-weight="normal" >40</text>
<line x1="170.50" y1="437.00" x2="173.50" y2="437.00" stroke="#000" stroke-width="1.2" />
<line x1="170.50" y1="396.00" x2="173.50" y2="396.00" stroke="#000" stroke-width="1.2" />
<line x1="170.50" y1="355.00" x2="173.50" y2="355.00" stroke="#000" stroke-width="1.2" />
<line x1="170.50" y1="314.00" x2="173.50" y2="314.00" stroke="#000" stroke-width="1.2" />
<line x1="219.70" y1="457.50" x2="219.70" y2="462.50" stroke="#000" stroke-width="1.2" />
<line x1="190.00" y1="391.00" x2="249.80" y2="339.80" stroke="#111" stroke-width="1.75" />
<line x1="190.00" y1="392.60" x2="249.80" y2="353.60" stroke="#111" stroke-width="1.75" />
<line x1="190.00" y1="408.60" x2="249.80" y2="379.70" stroke="#111" stroke-width="1.75" />
<line x1="190.00" y1="417.60" x2="249.80" y2="369.40" stroke="#111" stroke-width="1.75" />
<line x1="190.00" y1="423.70" x2="249.80" y2="370.30" stroke="#111" stroke-width="1.75" />
<line x1="190.00" y1="436.50" x2="249.80" y2="362.10" stroke="#111" stroke-width="1.75" />
<circle cx="190.00" cy="391.00" r="2.5" fill="#000"/>
<circle cx="249.80" cy="339.80" r="2.5" fill="#000"/>
<circle cx="190.00" cy="392.60" r="2.5" fill="#000"/>
<circle cx="249.80" cy="353.60" r="2.5" fill="#000"/>
<circle cx="190.00" cy="408.60" r="2.5" fill="#000"/>
<circle cx="249.80" cy="379.70" r="2.5" fill="#000"/>
<circle cx="190.00" cy="417.60" r="2.5" fill="#000"/>
<circle cx="249.80" cy="369.40" r="2.5" fill="#000"/>
<circle cx="190.00" cy="423.70" r="2.5" fill="#000"/>
<circle cx="249.80" cy="370.30" r="2.5" fill="#000"/>
<circle cx="190.00" cy="436.50" r="2.5" fill="#000"/>
<circle cx="249.80" cy="362.10" r="2.5" fill="#000"/>
<path d="M185.0 467.8 H194.2 M189.6 463.3 V472.4" stroke="#000" stroke-width="2"/>
<path d="M245.2 467.6 H251.0" stroke="#000" stroke-width="2"/>
<path d="M229.9 256.9 Q230.5 255.1 231.6 256.3 L233.5 261.7 L236.7 255.4 M233.5 261.7 L233.3 265.3" fill="none" stroke="#000" stroke-width="1.2" stroke-linecap="round" stroke-linejoin="round"/>
<circle cx="233.35" cy="265.10" r="0.8" fill="#000"/>
<circle cx="190.00" cy="395.90" r="2.5" fill="#000"/>
<text transform="translate(322.7,262.2) scale(1,1.03)" x="0" y="0" font-size="14.8">IL-17</text>
<line x1="322.70" y1="264.30" x2="357.00" y2="264.30" stroke="#000" stroke-width="1.1" />
<text transform="translate(274.9,278) scale(1,1.03)" x="0" y="0" font-size="11.5" text-anchor="start" font-weight="normal" >(%)</text>
<text transform="translate(318.6,287.3) scale(1,1.03)" x="0" y="0" font-size="12.4"><tspan font-style="italic">p</tspan>=0.004</text>
<path d="M309.7 293.3 V290.3 H370.8 V293.3" fill="none" stroke="#555" stroke-width="1.1"/>
<path d="M293.8 285.4 V458 H386.2" fill="none" stroke="#000" stroke-width="1.8"/>
<line x1="289.30" y1="458.00" x2="293.80" y2="458.00" stroke="#000" stroke-width="1.2" />
<text transform="translate(288.6,462.1) scale(1,1.03)" x="0" y="0" font-size="11.2" text-anchor="end" font-weight="normal" >0</text>
<line x1="289.30" y1="417.00" x2="293.80" y2="417.00" stroke="#000" stroke-width="1.2" />
<text transform="translate(288.6,421.1) scale(1,1.03)" x="0" y="0" font-size="11.2" text-anchor="end" font-weight="normal" >10</text>
<line x1="289.30" y1="376.00" x2="293.80" y2="376.00" stroke="#000" stroke-width="1.2" />
<text transform="translate(288.6,380.1) scale(1,1.03)" x="0" y="0" font-size="11.2" text-anchor="end" font-weight="normal" >20</text>
<line x1="289.30" y1="335.00" x2="293.80" y2="335.00" stroke="#000" stroke-width="1.2" />
<text transform="translate(288.6,339.1) scale(1,1.03)" x="0" y="0" font-size="11.2" text-anchor="end" font-weight="normal" >30</text>
<line x1="289.30" y1="294.00" x2="293.80" y2="294.00" stroke="#000" stroke-width="1.2" />
<text transform="translate(288.6,298.1) scale(1,1.03)" x="0" y="0" font-size="11.2" text-anchor="end" font-weight="normal" >40</text>
<line x1="290.80" y1="437.50" x2="293.80" y2="437.50" stroke="#000" stroke-width="1.2" />
<line x1="290.80" y1="396.50" x2="293.80" y2="396.50" stroke="#000" stroke-width="1.2" />
<line x1="290.80" y1="355.50" x2="293.80" y2="355.50" stroke="#000" stroke-width="1.2" />
<line x1="290.80" y1="314.50" x2="293.80" y2="314.50" stroke="#000" stroke-width="1.2" />
<line x1="341.10" y1="458.00" x2="341.10" y2="463.00" stroke="#000" stroke-width="1.2" />
<line x1="309.70" y1="364.90" x2="372.20" y2="298.90" stroke="#111" stroke-width="1.75" />
<line x1="309.70" y1="404.30" x2="372.20" y2="378.60" stroke="#111" stroke-width="1.75" />
<line x1="309.70" y1="419.20" x2="372.20" y2="352.20" stroke="#111" stroke-width="1.75" />
<line x1="309.70" y1="431.90" x2="372.20" y2="352.20" stroke="#111" stroke-width="1.75" />
<line x1="309.70" y1="423.80" x2="372.20" y2="404.90" stroke="#111" stroke-width="1.75" />
<line x1="309.70" y1="441.60" x2="372.20" y2="409.50" stroke="#111" stroke-width="1.75" />
<circle cx="309.70" cy="364.90" r="2.5" fill="#000"/>
<circle cx="372.20" cy="298.90" r="2.5" fill="#000"/>
<circle cx="309.70" cy="404.30" r="2.5" fill="#000"/>
<circle cx="372.20" cy="378.60" r="2.5" fill="#000"/>
<circle cx="309.70" cy="419.20" r="2.5" fill="#000"/>
<circle cx="372.20" cy="352.20" r="2.5" fill="#000"/>
<circle cx="309.70" cy="431.90" r="2.5" fill="#000"/>
<circle cx="372.20" cy="352.20" r="2.5" fill="#000"/>
<circle cx="309.70" cy="423.80" r="2.5" fill="#000"/>
<circle cx="372.20" cy="404.90" r="2.5" fill="#000"/>
<circle cx="309.70" cy="441.60" r="2.5" fill="#000"/>
<circle cx="372.20" cy="409.50" r="2.5" fill="#000"/>
<path d="M304.7 467.8 H313.90000000000003 M309.3 463.3 V472.4" stroke="#000" stroke-width="2"/>
<path d="M365.70000000000005 467.6 H371.5" stroke="#000" stroke-width="2"/>
<text transform="translate(8.3,474.8) scale(1,1.03)" x="0" y="0" font-size="15" text-anchor="start" font-weight="normal" >ICOS;</text>
<text x="424.6" y="18.2" font-size="20" text-anchor="start" font-weight="bold" >B</text>
<text transform="translate(546.7,14.4) scale(1,1.03)" x="0" y="0" font-size="15" text-anchor="middle" font-weight="normal" >CRC</text>
<text transform="translate(655.1,14.2) scale(1,1.03)" x="0" y="0" font-size="15" text-anchor="middle" font-weight="normal" >GC</text>
<text transform="translate(526.0,35.2) scale(1,1.03)" x="0" y="0" font-size="12.5"><tspan font-style="italic">p</tspan>=0.90</text>
<text transform="translate(627.9,34.8) scale(1,1.03)" x="0" y="0" font-size="12.5"><tspan font-style="italic">p</tspan>=0.014</text>
<line x1="516.90" y1="37.80" x2="574.20" y2="37.80" stroke="#000" stroke-width="1.5" />
<line x1="623.10" y1="38.10" x2="680.70" y2="38.10" stroke="#000" stroke-width="1.5" />
<path d="M494 37.5 V226.5 H705" fill="none" stroke="#000" stroke-width="1.8"/>
<line x1="489.00" y1="224.40" x2="494.00" y2="224.40" stroke="#000" stroke-width="1.2" />
<text transform="translate(487.6,228.70000000000002) scale(1,1.03)" x="0" y="0" font-size="11" text-anchor="end" font-weight="normal" >0</text>
<line x1="491.20" y1="205.78" x2="494.00" y2="205.78" stroke="#000" stroke-width="1.2" />
<line x1="489.00" y1="187.16" x2="494.00" y2="187.16" stroke="#000" stroke-width="1.2" />
<text transform="translate(487.6,191.46) scale(1,1.03)" x="0" y="0" font-size="11" text-anchor="end" font-weight="normal" >20</text>
<line x1="491.20" y1="168.54" x2="494.00" y2="168.54" stroke="#000" stroke-width="1.2" />
<line x1="489.00" y1="149.92" x2="494.00" y2="149.92" stroke="#000" stroke-width="1.2" />
<text transform="translate(487.6,154.22000000000003) scale(1,1.03)" x="0" y="0" font-size="11" text-anchor="end" font-weight="normal" >40</text>
<line x1="491.20" y1="131.30" x2="494.00" y2="131.30" stroke="#000" stroke-width="1.2" />
<line x1="489.00" y1="112.68" x2="494.00" y2="112.68" stroke="#000" stroke-width="1.2" />
<text transform="translate(487.6,116.98) scale(1,1.03)" x="0" y="0" font-size="11" text-anchor="end" font-weight="normal" >60</text>
<line x1="491.20" y1="94.06" x2="494.00" y2="94.06" stroke="#000" stroke-width="1.2" />
<line x1="489.00" y1="75.44" x2="494.00" y2="75.44" stroke="#000" stroke-width="1.2" />
<text transform="translate(487.6,79.74) scale(1,1.03)" x="0" y="0" font-size="11" text-anchor="end" font-weight="normal" >80</text>
<line x1="491.20" y1="56.82" x2="494.00" y2="56.82" stroke="#000" stroke-width="1.2" />
<line x1="489.00" y1="38.20" x2="494.00" y2="38.20" stroke="#000" stroke-width="1.2" />
<text transform="translate(487.6,42.499999999999986) scale(1,1.03)" x="0" y="0" font-size="11" text-anchor="end" font-weight="normal" >100</text>
<line x1="544.20" y1="226.50" x2="544.20" y2="231.50" stroke="#000" stroke-width="1.4" />
<line x1="595.60" y1="226.50" x2="595.60" y2="231.50" stroke="#000" stroke-width="1.4" />
<line x1="649.20" y1="226.50" x2="649.20" y2="231.50" stroke="#000" stroke-width="1.4" />
<text x="0" y="0" font-size="15" text-anchor="middle" font-weight="normal" transform="translate(462.4,145.2) rotate(-90) scale(1,1.03)">% ICOSL<tspan font-size="9.5" dy="-5.5">+</tspan><tspan dy="5.5"> in pDCs</tspan></text>
<line x1="518.70" y1="144.50" x2="518.70" y2="169.40" stroke="#222" stroke-width="1.3" />
<line x1="518.70" y1="206.10" x2="518.70" y2="224.50" stroke="#222" stroke-width="1.3" />
<line x1="507.00" y1="144.50" x2="531.60" y2="144.50" stroke="#222" stroke-width="1.1" />
<line x1="507.00" y1="224.50" x2="531.60" y2="224.50" stroke="#222" stroke-width="1.1" />
<rect x="507.0" y="169.4" width="24.600000000000023" height="36.69999999999999" fill="none" stroke="#222" stroke-width="1.15"/>
<line x1="507.00" y1="188.40" x2="531.60" y2="188.40" stroke="#000" stroke-width="1.3" />
<circle cx="518.70" cy="144.40" r="2.15" fill="#000"/>
<circle cx="518.70" cy="169.40" r="2.15" fill="#000"/>
<circle cx="518.70" cy="188.50" r="2.15" fill="#000"/>
<circle cx="522.40" cy="187.90" r="2.15" fill="#000"/>
<circle cx="518.70" cy="197.90" r="2.15" fill="#000"/>
<circle cx="518.70" cy="205.70" r="2.15" fill="#000"/>
<circle cx="518.70" cy="224.50" r="2.15" fill="#000"/>
<line x1="568.70" y1="158.30" x2="568.70" y2="171.30" stroke="#222" stroke-width="1.3" />
<line x1="568.70" y1="204.10" x2="568.70" y2="224.40" stroke="#222" stroke-width="1.3" />
<line x1="556.70" y1="158.30" x2="581.50" y2="158.30" stroke="#222" stroke-width="1.1" />
<line x1="556.70" y1="224.40" x2="581.50" y2="224.40" stroke="#222" stroke-width="1.1" />
<rect x="556.7" y="171.3" width="24.799999999999955" height="32.79999999999998" fill="none" stroke="#222" stroke-width="1.15"/>
<line x1="556.70" y1="187.30" x2="581.50" y2="187.30" stroke="#000" stroke-width="1.3" />
<circle cx="568.70" cy="158.30" r="2.15" fill="#000"/>
<circle cx="568.70" cy="171.30" r="2.15" fill="#000"/>
<circle cx="568.70" cy="178.00" r="2.15" fill="#000"/>
<circle cx="568.70" cy="187.30" r="2.15" fill="#000"/>
<circle cx="568.70" cy="204.10" r="2.15" fill="#000"/>
<circle cx="572.80" cy="202.30" r="2.15" fill="#000"/>
<circle cx="568.70" cy="224.40" r="2.15" fill="#000"/>
<line x1="621.30" y1="84.10" x2="621.30" y2="110.50" stroke="#222" stroke-width="1.3" />
<line x1="621.30" y1="143.00" x2="621.30" y2="187.00" stroke="#222" stroke-width="1.3" />
<line x1="607.50" y1="84.10" x2="635.10" y2="84.10" stroke="#222" stroke-width="1.1" />
<line x1="607.50" y1="187.00" x2="635.10" y2="187.00" stroke="#222" stroke-width="1.1" />
<rect x="607.5" y="110.5" width="27.600000000000023" height="32.5" fill="none" stroke="#222" stroke-width="1.15"/>
<line x1="607.50" y1="121.30" x2="635.10" y2="121.30" stroke="#000" stroke-width="1.3" />
<circle cx="621.30" cy="84.10" r="2.15" fill="#000"/>
<circle cx="621.30" cy="98.50" r="2.15" fill="#000"/>
<circle cx="621.30" cy="108.40" r="2.15" fill="#000"/>
<circle cx="621.30" cy="115.60" r="2.15" fill="#000"/>
<circle cx="617.40" cy="121.30" r="2.15" fill="#000"/>
<circle cx="625.20" cy="121.30" r="2.15" fill="#000"/>
<circle cx="629.50" cy="121.30" r="2.15" fill="#000"/>
<circle cx="621.30" cy="125.20" r="2.15" fill="#000"/>
<circle cx="621.30" cy="134.60" r="2.15" fill="#000"/>
<circle cx="621.30" cy="145.60" r="2.15" fill="#000"/>
<circle cx="621.10" cy="187.00" r="2.15" fill="#000"/>
<circle cx="625.70" cy="187.00" r="2.15" fill="#000"/>
<line x1="676.30" y1="46.40" x2="676.30" y2="65.40" stroke="#222" stroke-width="1.3" />
<line x1="676.30" y1="114.40" x2="676.30" y2="187.00" stroke="#222" stroke-width="1.3" />
<line x1="663.00" y1="46.40" x2="690.60" y2="46.40" stroke="#222" stroke-width="1.1" />
<line x1="663.00" y1="187.00" x2="690.60" y2="187.00" stroke="#222" stroke-width="1.1" />
<rect x="663.0" y="65.4" width="27.600000000000023" height="49.0" fill="none" stroke="#222" stroke-width="1.15"/>
<line x1="663.00" y1="91.10" x2="690.60" y2="91.10" stroke="#000" stroke-width="1.3" />
<circle cx="676.30" cy="46.50" r="2.15" fill="#000"/>
<circle cx="676.30" cy="53.20" r="2.15" fill="#000"/>
<circle cx="676.30" cy="58.70" r="2.15" fill="#000"/>
<circle cx="676.30" cy="65.40" r="2.15" fill="#000"/>
<circle cx="680.60" cy="65.40" r="2.15" fill="#000"/>
<circle cx="676.30" cy="76.00" r="2.15" fill="#000"/>
<circle cx="676.30" cy="81.30" r="2.15" fill="#000"/>
<circle cx="676.30" cy="91.10" r="2.15" fill="#000"/>
<circle cx="680.50" cy="91.10" r="2.15" fill="#000"/>
<circle cx="676.30" cy="100.20" r="2.15" fill="#000"/>
<circle cx="672.10" cy="104.60" r="2.15" fill="#000"/>
<circle cx="676.30" cy="107.60" r="2.15" fill="#000"/>
<circle cx="680.60" cy="106.10" r="2.15" fill="#000"/>
<circle cx="676.30" cy="121.40" r="2.15" fill="#000"/>
<circle cx="676.30" cy="145.90" r="2.15" fill="#000"/>
<circle cx="676.30" cy="149.40" r="2.15" fill="#000"/>
<circle cx="676.30" cy="187.00" r="2.15" fill="#000"/>
<text transform="translate(441.3,241.8) scale(1,1.03)" x="0" y="0" font-size="15" text-anchor="start" font-weight="normal" >Hp-Ab;</text>
<path d="M516.1 234.6 H521.7" stroke="#000" stroke-width="1.9"/>
<path d="M563.7 235.2 H573.7 M568.7 230.4 V240" stroke="#000" stroke-width="2"/>
<path d="M618.6999999999999 234.6 H624.3" stroke="#000" stroke-width="1.9"/>
<path d="M671.3 235.2 H681.3 M676.3 230.4 V240" stroke="#000" stroke-width="2"/>
<text transform="translate(519.1,255.9) scale(1,1.03)" x="0" y="0" font-size="13.4" text-anchor="middle" font-weight="normal" >(n=7)</text>
<text transform="translate(569.3,255.9) scale(1,1.03)" x="0" y="0" font-size="13.4" text-anchor="middle" font-weight="normal" >(n=7)</text>
<text transform="translate(620.8,255.9) scale(1,1.03)" x="0" y="0" font-size="13.4" text-anchor="middle" font-weight="normal" >(n=12)</text>
<text transform="translate(675.3,255.9) scale(1,1.03)" x="0" y="0" font-size="13.4" text-anchor="middle" font-weight="normal" >(n=17)</text>
<text x="427.4" y="278.6" font-size="20" text-anchor="start" font-weight="bold" >C</text>
<path d="M497 288 V476.3 H665.2" fill="none" stroke="#000" stroke-width="1.7"/>
<line x1="492.40" y1="476.30" x2="497.00" y2="476.30" stroke="#000" stroke-width="1.2" />
<text transform="translate(489.8,480.5) scale(1,1.03)" x="0" y="0" font-size="11" text-anchor="end" font-weight="normal" >0</text>
<line x1="493.70" y1="462.95" x2="497.00" y2="462.95" stroke="#000" stroke-width="1.2" />
<line x1="492.40" y1="449.60" x2="497.00" y2="449.60" stroke="#000" stroke-width="1.2" />
<text transform="translate(489.8,453.8) scale(1,1.03)" x="0" y="0" font-size="11" text-anchor="end" font-weight="normal" >10</text>
<line x1="493.70" y1="436.25" x2="497.00" y2="436.25" stroke="#000" stroke-width="1.2" />
<line x1="492.40" y1="422.90" x2="497.00" y2="422.90" stroke="#000" stroke-width="1.2" />
<text transform="translate(489.8,427.1) scale(1,1.03)" x="0" y="0" font-size="11" text-anchor="end" font-weight="normal" >20</text>
<line x1="493.70" y1="409.55" x2="497.00" y2="409.55" stroke="#000" stroke-width="1.2" />
<line x1="492.40" y1="396.20" x2="497.00" y2="396.20" stroke="#000" stroke-width="1.2" />
<text transform="translate(489.8,400.40000000000003) scale(1,1.03)" x="0" y="0" font-size="11" text-anchor="end" font-weight="normal" >30</text>
<line x1="493.70" y1="382.85" x2="497.00" y2="382.85" stroke="#000" stroke-width="1.2" />
<line x1="492.40" y1="369.50" x2="497.00" y2="369.50" stroke="#000" stroke-width="1.2" />
<text transform="translate(489.8,373.7) scale(1,1.03)" x="0" y="0" font-size="11" text-anchor="end" font-weight="normal" >40</text>
<line x1="493.70" y1="356.15" x2="497.00" y2="356.15" stroke="#000" stroke-width="1.2" />
<line x1="492.40" y1="342.80" x2="497.00" y2="342.80" stroke="#000" stroke-width="1.2" />
<text transform="translate(489.8,347.0) scale(1,1.03)" x="0" y="0" font-size="11" text-anchor="end" font-weight="normal" >50</text>
<line x1="493.70" y1="329.45" x2="497.00" y2="329.45" stroke="#000" stroke-width="1.2" />
<line x1="492.40" y1="316.10" x2="497.00" y2="316.10" stroke="#000" stroke-width="1.2" />
<text transform="translate(489.8,320.3) scale(1,1.03)" x="0" y="0" font-size="11" text-anchor="end" font-weight="normal" >60</text>
<line x1="493.70" y1="302.75" x2="497.00" y2="302.75" stroke="#000" stroke-width="1.2" />
<line x1="492.40" y1="289.40" x2="497.00" y2="289.40" stroke="#000" stroke-width="1.2" />
<text transform="translate(489.8,293.59999999999997) scale(1,1.03)" x="0" y="0" font-size="11" text-anchor="end" font-weight="normal" >70</text>
<line x1="500.00" y1="476.30" x2="500.00" y2="480.80" stroke="#000" stroke-width="1.2" />
<text transform="translate(500.0,491.6) scale(1,1.03)" x="0" y="0" font-size="10.8" text-anchor="middle" font-weight="normal" >0</text>
<line x1="516.18" y1="476.30" x2="516.18" y2="479.30" stroke="#000" stroke-width="1.2" />
<line x1="532.36" y1="476.30" x2="532.36" y2="480.80" stroke="#000" stroke-width="1.2" />
<text transform="translate(532.36,491.6) scale(1,1.03)" x="0" y="0" font-size="10.8" text-anchor="middle" font-weight="normal" >10</text>
<line x1="548.54" y1="476.30" x2="548.54" y2="479.30" stroke="#000" stroke-width="1.2" />
<line x1="564.72" y1="476.30" x2="564.72" y2="480.80" stroke="#000" stroke-width="1.2" />
<text transform="translate(564.72,491.6) scale(1,1.03)" x="0" y="0" font-size="10.8" text-anchor="middle" font-weight="normal" >20</text>
<line x1="580.90" y1="476.30" x2="580.90" y2="479.30" stroke="#000" stroke-width="1.2" />
<line x1="597.08" y1="476.30" x2="597.08" y2="480.80" stroke="#000" stroke-width="1.2" />
<text transform="translate(597.08,491.6) scale(1,1.03)" x="0" y="0" font-size="10.8" text-anchor="middle" font-weight="normal" >30</text>
<line x1="613.26" y1="476.30" x2="613.26" y2="479.30" stroke="#000" stroke-width="1.2" />
<line x1="629.44" y1="476.30" x2="629.44" y2="480.80" stroke="#000" stroke-width="1.2" />
<text transform="translate(629.44,491.6) scale(1,1.03)" x="0" y="0" font-size="10.8" text-anchor="middle" font-weight="normal" >40</text>
<line x1="645.62" y1="476.30" x2="645.62" y2="479.30" stroke="#000" stroke-width="1.2" />
<line x1="661.80" y1="476.30" x2="661.80" y2="480.80" stroke="#000" stroke-width="1.2" />
<text transform="translate(661.8,491.6) scale(1,1.03)" x="0" y="0" font-size="10.8" text-anchor="middle" font-weight="normal" >50</text>
<circle cx="564.80" cy="307.30" r="1.9" fill="#000"/>
<circle cx="564.80" cy="321.00" r="1.9" fill="#000"/>
<circle cx="532.20" cy="329.80" r="1.9" fill="#000"/>
<circle cx="546.80" cy="352.50" r="1.9" fill="#000"/>
<circle cx="538.60" cy="363.90" r="1.9" fill="#000"/>
<circle cx="563.20" cy="363.90" r="1.9" fill="#000"/>
<circle cx="500.40" cy="379.60" r="1.9" fill="#000"/>
<circle cx="596.10" cy="378.40" r="1.9" fill="#000"/>
<circle cx="536.30" cy="394.00" r="1.9" fill="#000"/>
<circle cx="581.00" cy="395.60" r="1.9" fill="#000"/>
<circle cx="638.90" cy="363.80" r="1.9" fill="#000"/>
<circle cx="593.00" cy="427.80" r="1.9" fill="#000"/>
<circle cx="616.00" cy="430.00" r="1.9" fill="#000"/>
<circle cx="500.00" cy="408.00" r="1.9" fill="#000"/>
<line x1="497.00" y1="369.20" x2="653.80" y2="376.50" stroke="#000" stroke-width="1.5" />
<text transform="translate(623.5,441.8) scale(1,1.03)" x="0" y="0" font-size="13">n=14</text>
<text transform="translate(623.5,457.5) scale(1,1.03)" x="0" y="0" font-size="13"><tspan font-style="italic">r</tspan><tspan font-size="8.5" dy="-4.6">2</tspan><tspan dy="4.6" letter-spacing="0.45"> =0.024</tspan></text>
<text transform="translate(623.5,472.1) scale(1,1.03)" x="0" y="0" font-size="13" letter-spacing="0.3"><tspan font-style="italic">p</tspan>=0.60</text>
<text transform="translate(509.5,512.8) scale(1,1.03)" x="0" y="0" font-size="15.2">% ICOSL<tspan font-size="9.5" dy="-5.5">+</tspan><tspan dy="5.5"> in pDCs</tspan></text>
<text x="0" y="0" font-size="15.2" text-anchor="middle" font-weight="normal" transform="translate(466,391.3) rotate(-90) scale(1,1.03)">% ICOS<tspan font-size="9.5" dy="-5.5">+</tspan><tspan dy="5.5"> in CD25</tspan><tspan font-size="9.5" dy="-5.5">+</tspan><tspan dy="5.5"> CD4</tspan><tspan font-size="9.5" dy="-5.5">+</tspan><tspan dy="5.5"> TILs</tspan></text>
</svg></body></html>
